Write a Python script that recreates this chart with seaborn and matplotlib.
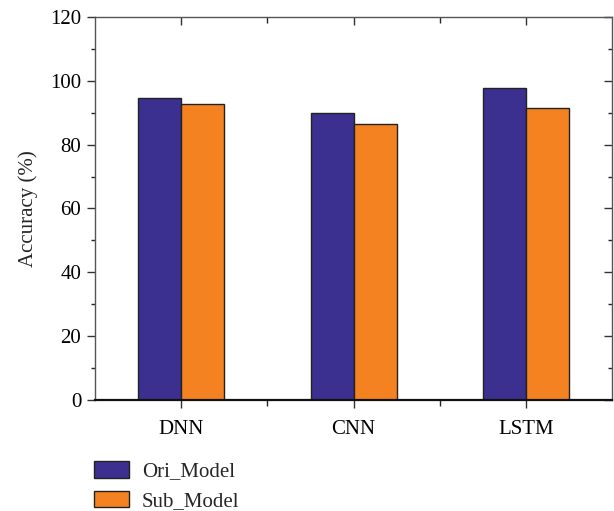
import matplotlib
matplotlib.use("Agg")
import matplotlib.pyplot as plt
import pandas as pd
import seaborn as sns
from matplotlib.ticker import MultipleLocator, FixedLocator

categories = ["DNN", "CNN", "LSTM"]
ori_model = [94.7, 90.0, 97.6]
sub_model = [92.8, 86.4, 91.6]
series_names = ["Ori_Model", "Sub_Model"]
colors = ["#3B2F8F", "#F58220"]

df = pd.DataFrame({
    "Model": categories * 2,
    "Series": [series_names[0]] * 3 + [series_names[1]] * 3,
    "Accuracy": ori_model + sub_model,
})

sns.set_theme(style="white")
plt.rcParams["font.family"] = ["Liberation Serif", "DejaVu Serif"]

fig = plt.figure(figsize=(6.14, 5.11), dpi=100)
ax = fig.add_axes([0.155, 0.217, 0.842, 0.75])

sns.barplot(data=df, x="Model", y="Accuracy", hue="Series", palette=colors,
            saturation=1, width=0.5, gap=0, edgecolor="#222222", linewidth=1.0,
            ax=ax, legend=True)

ax.set_xlim(-0.5, 2.5)
ax.set_ylim(0, 120)
ax.yaxis.set_major_locator(MultipleLocator(20))
ax.yaxis.set_minor_locator(MultipleLocator(10))
ax.xaxis.set_minor_locator(FixedLocator([0.5, 1.5]))

ax.set_xlabel("")
ax.set_ylabel("Accuracy (%)", fontsize=15, labelpad=9)
ax.tick_params(axis="both", which="major", labelsize=15, colors="#333333",
               labelcolor="black")
ax.tick_params(axis="y", which="both", direction="out", left=True, right=True)
ax.tick_params(axis="y", which="major", length=6, width=1, pad=4)
ax.tick_params(axis="y", which="minor", length=3, width=1)
ax.tick_params(axis="x", which="both", direction="out", bottom=True, top=True)
ax.tick_params(axis="x", which="major", length=6, width=1, pad=8)
ax.tick_params(axis="x", which="minor", length=4, width=1)

# right and top ticks point inward
for t in ax.yaxis.get_major_ticks() + ax.yaxis.get_minor_ticks():
    t.tick2line.set_marker(matplotlib.lines.TICKLEFT)
for t in ax.xaxis.get_major_ticks() + ax.xaxis.get_minor_ticks():
    t.tick2line.set_marker(matplotlib.lines.TICKDOWN)

for side in ["left", "right", "top"]:
    ax.spines[side].set_color("#555555")
    ax.spines[side].set_linewidth(1.0)
ax.spines["bottom"].set_color("#111111")
ax.spines["bottom"].set_linewidth(1.6)

handles, labels = ax.get_legend_handles_labels()
ax.get_legend().remove()
fig.legend(handles, labels, loc="upper left", bbox_to_anchor=(0.153, 0.098),
           frameon=False, fontsize=15, handlelength=1.7, handleheight=0.85,
           labelspacing=0.45, handletextpad=0.6, borderpad=0, borderaxespad=0)

fig.savefig("out.png", dpi=100)
